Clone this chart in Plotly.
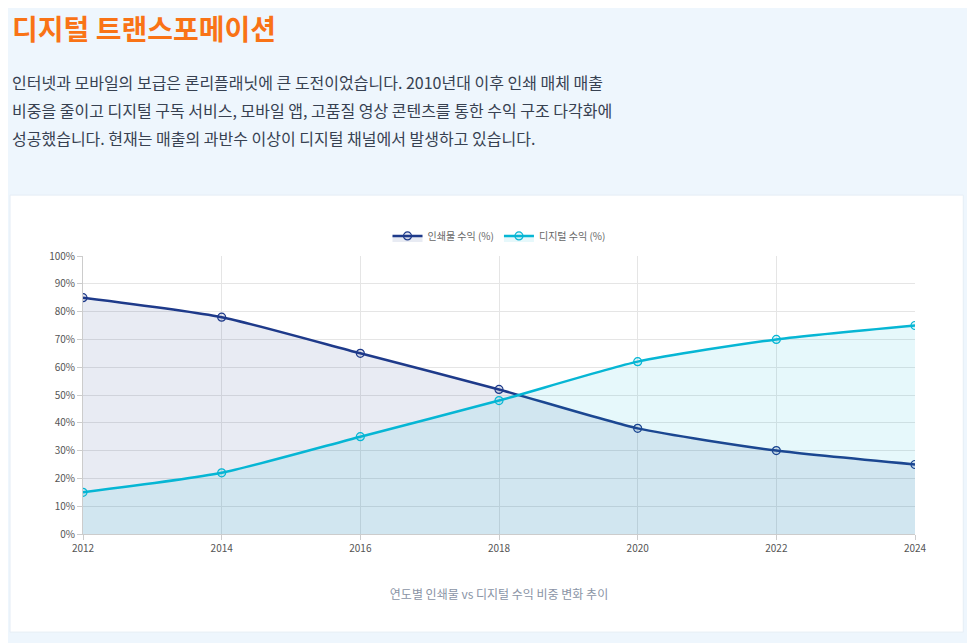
import plotly.graph_objects as go

years = [2012, 2014, 2016, 2018, 2020, 2022, 2024]
print_rev = [85, 78, 65, 52, 38, 30, 25]
digital_rev = [15, 22, 35, 48, 62, 70, 75]
y_ticks = list(range(0, 101, 10))
y_labels = [f"{v}%" for v in y_ticks]
para = ["인터넷과 모바일의 보급은 론리플래닛에 큰 도전이었습니다. 2010년대 이후 인쇄 매체 매출",
        "비중을 줄이고 디지털 구독 서비스, 모바일 앱, 고품질 영상 콘텐츠를 통한 수익 구조 다각화에",
        "성공했습니다. 현재는 매출의 과반수 이상이 디지털 채널에서 발생하고 있습니다."]

F = "Noto Sans CJK KR"
fig = go.Figure()
fig.add_trace(go.Scatter(x=years, y=print_rev, name="인쇄물 수익 (%)", mode="lines+markers",
    line=dict(color="#1e3a8a", width=2.5, shape="spline", smoothing=0.6),
    marker=dict(size=8, color="rgba(30,58,138,0.12)", line=dict(color="#1e3a8a", width=1.2)),
    fill="tozeroy", fillcolor="rgba(30,58,138,0.1)"))
fig.add_trace(go.Scatter(x=years, y=digital_rev, name="디지털 수익 (%)", mode="lines+markers",
    line=dict(color="#06b6d4", width=2.5, shape="spline", smoothing=0.6),
    marker=dict(size=8, color="rgba(6,182,212,0.12)", line=dict(color="#06b6d4", width=1.2)),
    fill="tozeroy", fillcolor="rgba(6,182,212,0.1)"))

fig.add_shape(type="rect", xref="paper", yref="paper", x0=-0.0877, x1=1.058, y0=-0.353, y1=1.219,
    fillcolor="white", line=dict(color="#e5edf5", width=1), layer="below")

fig.add_annotation(text="<b>디지털 트랜스포메이션</b>", xref="paper", yref="paper", x=-0.0877, y=1.82,
    xanchor="left", yanchor="middle", showarrow=False, font=dict(family=F, size=28, color="#f97316"))
for line, yy in zip(para, [1.626, 1.525, 1.424]):
    fig.add_annotation(text=line, xref="paper", yref="paper", x=-0.0877, y=yy, xanchor="left",
        yanchor="middle", showarrow=False, font=dict(family=F, size=16, color="#374151"))

fig.update_layout(
    width=975, height=643, paper_bgcolor="#eef6fd", plot_bgcolor="white",
    margin=dict(l=75, r=68, t=248, b=117),
    font=dict(family=F, size=10, color="#555"),
    showlegend=True,
    legend=dict(orientation="h", x=0.5, xanchor="center", y=1.02, yanchor="bottom",
                bgcolor="rgba(0,0,0,0)", font=dict(size=10, color="#666")),
    xaxis=dict(range=[2012, 2024], tickvals=years, showgrid=True, gridcolor="#e5e5e5", zeroline=False,
               linecolor="#ccc", ticks="outside", tickcolor="#ccc",
               title=dict(text="연도별 인쇄물 vs 디지털 수익 비중 변화 추이", font=dict(size=12, color="#8a94a6"), standoff=36)),
    yaxis=dict(range=[0, 100], tickvals=y_ticks, ticktext=y_labels, showgrid=True, gridcolor="#e5e5e5",
               zeroline=False, linecolor="#ccc", ticks="outside", tickcolor="#ccc"),
)
fig.write_html("out.html")
